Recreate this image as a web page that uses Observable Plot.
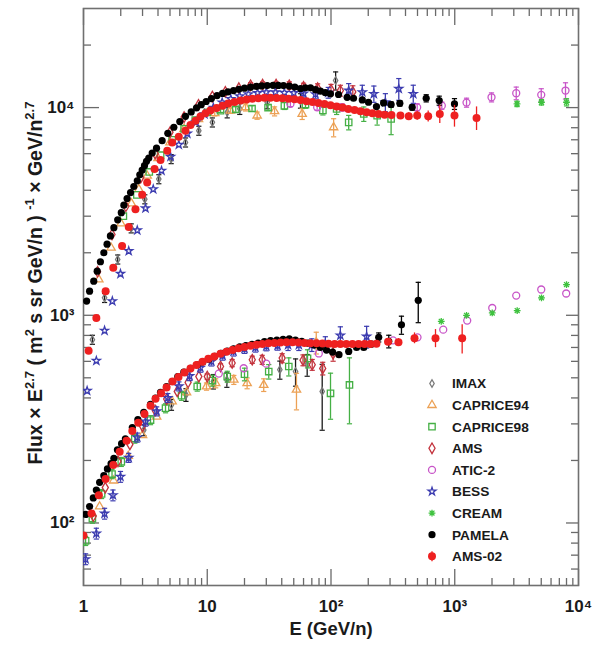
<!DOCTYPE html>
<html>
<head>
<meta charset="utf-8">
<script src="https://cdn.jsdelivr.net/npm/d3@7"></script>
<script src="https://cdn.jsdelivr.net/npm/@observablehq/plot@0.6"></script>
<style>
  body { margin: 0; background: #fff; }
  #chart { width: 595px; height: 646px; }
</style>
</head>
<body>
<div id="chart"></div>
<script>
// Cosmic-ray proton (upper band) and helium (lower band) spectra, flux × E^2.7.
// Each row: [E (GeV/n), flux × E^2.7, relative error (optional)]

const imaxP = [[1.18,763,.05],[1.48,1213,.05],[1.89,1858,.05],[2.43,2624,.05],[3.13,3622,.05],[4.06,4525,.05],[5.11,5654,.05],[6.67,6800,.05],[8.55,7745,.05],[11.0,8490,.05],[14.5,9490,.06],[18.3,9860,.06],[30.5,10610,.07],[56.7,10800,.08],[109,13500,.1]];
const imaxHe = [[3.07,280,.06],[5.14,371,.06],[6.73,414,.07],[11.2,480,.08],[14.4,489,.08],[38.6,547,.1],[51.7,536,.15],[64.2,578,.12],[84.9,430,.35]];

const caprice94P = [[1.33,1488],[1.67,2113],[2.01,2767],[2.44,3456],[2.80,4048],[3.27,4694],[4.0,5700],[5.0,6800],[6.5,7900],[8.5,8800],[11.5,9400,.03],[15.4,9670,.03],[20.4,10030,.04],[25.3,9150,.04],[35,9600,.05],[58.5,9324,.06],[105,8035,.1]];
const caprice94He = [[1.35,120],[1.75,160],[2.3,210],[3.0,265],[3.9,325],[5.2,385],[6.8,425],[9.86,454,.04],[11.7,471,.05],[16.4,489,.05],[21.0,471,.06],[28.6,462,.07],[52.6,438,.2],[76,740,.12]];

const caprice98P = [[2.1,3000],[2.7,3800],[3.4,4900],[4.2,5900],[5.2,7000],[6.5,7900],[8.0,8700],[10.0,9490,.02],[12.8,9670,.02],[17,9800,.03],[23,9900,.03],[31,10000,.03],[42,10200,.04],[62.2,10340,.04],[86,9700,.05],[111,9856,.06],[139,8490,.08],[184,9324,.08],[236,9150,.1],[306,8818,.16]];
const caprice98He = [[1.04,82,.05],[1.18,105,.05],[1.4,138,.05],[1.7,172,.05],[2.02,197,.05],[2.6,255,.05],[3.48,313,.05],[4.6,357,.05],[6.2,410,.05],[8.3,454,.05],[11,485,.06],[14.5,507,.06],[20,520,.07],[31.4,536,.08],[45.6,567,.1],[64.6,620,.1],[99.1,421,.25],[141,462,.35]];

const amsP = [[1.3,1620],[1.7,2450],[2.2,3350],[2.9,4600],[3.8,6000],[5,7600],[6.5,9000],[8.5,10300],[11,11300],[14,11900],[18,12400],[22.4,12800,.03],[28,12900,.03],[36,12900,.03],[46,12800,.04],[60,12600,.04],[78,12400,.05],[100,12200,.06],[119,12080,.06],[150,11900,.07]];
const amsHe = [[1.2,108],[1.5,148],[1.9,198],[2.37,239],[3.0,292],[3.8,348],[4.7,395],[5.72,430],[7.0,475],[8.55,507],[10.0,507,.03],[12.8,567,.03],[15.9,589,.04],[23.1,611,.04],[27.8,611,.05],[40.3,622,.05],[59.4,608,.06],[70.5,578,.06],[85.7,555,.07],[104,653,.08]];

const aticP = [[47,10420,.03],[77.3,10030,.03],[123,10030,.04],[497,10030,.04],[786,10220,.04],[1245,10570,.05],[1982,11210,.05],[3139,11730,.07],[5000,11520,.07],[7852,12080,.09]];
const aticHe = [[12.4,524],[19.7,556],[30,585],[79.7,655],[317,757],[500,783],[807,853],[1261,943],[2009,1084],[3139,1244],[5000,1331],[7955,1273]];

const bessP = [[1.07,433],[1.27,604],[1.48,844],[1.71,1170],[1.99,1584],[2.32,2039],[2.72,2566],[3.17,3275],[3.66,4048],[4.27,4966],[5.05,5800],[5.89,6624],[6.9,7500],[8.1,8500],[9.5,9300],[11.2,10000],[13.2,10600],[15.5,11000],[18.3,11350],[21.5,11600],[25.5,11750],[30,11850],[35.5,11850],[42,11800],[50,11750],[60,11700,.04],[75,11600,.05],[95,11800,.06],[139,12080,.08],[179,11860,.08],[222,11650,.09],[275,10610,.1],[353,12320,.12],[462,11650,.1]];
const bessHe = [[1.04,67,.06],[1.27,89,.06],[1.48,111,.06],[1.73,136,.06],[1.99,167,.06],[2.32,206,.05],[2.72,258,.05],[3.17,308,.05],[3.9,345,.05],[4.8,400,.05],[5.9,455,.05],[7.2,510,.05],[8.8,560,.05],[10.8,600,.05],[13.3,640,.05],[16.3,670,.05],[20,690,.05],[24.5,700,.05],[30,710,.05],[37,715,.05],[45,720,.06],[55,720,.06],[70,720,.07],[90,730,.08],[119,800,.1],[194,790,.12]];

const creamP = [[3186,10420,.03],[5023,10610,.03],[8000,10610,.04]];
const creamHe = [[778,935],[1245,1000],[2009,1026],[3196,1054],[5023,1213],[8000,1406]];

const pamelaP = [[1.06,1170],[1.12,1306],[1.21,1460],[1.29,1630],[1.37,1810],[1.46,2000],[1.55,2200],[1.65,2410],[1.76,2640],[1.89,2880],[2.02,3120],[2.12,3390],[2.25,3650],[2.40,3900],[2.55,4170],[2.72,4440],[2.85,4750],[2.98,5000],[3.11,5250],[3.23,5510],[3.37,5720],[3.59,6040],[3.89,6380],[4.32,6930],[4.80,7520],[5.37,8040],[6.00,8560],[6.67,9080],[7.42,9530],[8.19,9970],[8.94,10330],[9.8,10700],[10.8,11050],[12.0,11430],[13.3,11700],[14.7,11900],[16.3,12080],[18.0,12250],[20.0,12400],[22.4,12540],[25,12650],[27.5,12720],[30.5,12770],[34,12800],[37.5,12790],[41.3,12770],[46,12700],[51,12550],[56.7,12360],[62,12450],[68.3,12450],[75,12200],[82.2,11990],[90,11800],[99,11650],[115,11560],[135,11210],[152,11090],[179,10890],[201,10610,.02],[233,10110,.02],[266,10530,.02],[306,10340,.03],[360,10490,.03],[453,10030,.03],[588,11090,.04],[749,10810,.05],[995,10420,.06]];
const pamelaHe = [[1.04,110],[1.12,120],[1.20,132],[1.27,144],[1.35,157],[1.46,169],[1.56,182],[1.67,193],[1.76,205],[1.88,225],[2.03,241],[2.18,254],[2.48,288],[2.75,315],[3.07,341],[3.48,373],[3.82,399],[4.19,425],[4.69,454],[5.21,480],[5.78,507],[6.47,532],[7.32,556],[8.30,578],[9.2,595],[10.3,615],[11.5,635],[12.9,655],[14.5,672],[16.3,690],[18.3,705],[20.5,715],[23,725],[25.8,735],[29,748],[32.5,755],[36.5,760],[41,765],[46,770],[51.6,760],[58,750],[65,735],[73,720],[82,700],[92,680],[103,665],[116,646],[139,670],[161,700],[184,700],[211,727,.03],[243,783,.05],[293,749,.07],[371,900,.1],[507,1181,.22]];

const ams02P = [[1.10,675],[1.27,970],[1.51,1306],[1.74,1692],[2.05,2153],[2.32,2661],[2.63,3243],[2.98,3800],[3.27,4357],[3.75,5057],[4.19,5590],[4.75,6200],[5.21,6800],[5.89,7240],[6.67,7745],[7.32,8250],[8.04,8653],[8.82,9050],[9.68,9390],[10.6,9670],[11.9,9945],[13.3,10220],[14.8,10450],[16.6,10630],[18.6,10810],[20.8,10930],[23.2,11020],[25.9,11090],[29.0,11140],[32.4,11140],[36.3,11120],[40.5,11080],[45.4,11020],[50.7,10960],[56.7,10870],[63.4,10740],[70.9,10630],[79.2,10510],[88.6,10400],[99.1,10260],[111,10110],[124,10000],[138,9856],[155,9727],[173,9594],[194,9485],[216,9398],[242,9324],[271,9250],[308,9200,.02],[364,9150,.03],[425,9080,.04],[497,9150,.05],[610,9080,.06],[757,9324,.1],[995,9150,.12],[1500,8917,.13]];
const ams02He = [[1.0,87],[1.16,111],[1.33,136],[1.51,163],[1.74,190],[1.96,220],[2.23,249],[2.48,277],[2.77,304],[3.11,335],[3.48,367],[3.82,396],[4.24,421],[4.69,449],[5.24,480],[5.86,504],[6.55,530],[7.32,555],[8.19,577],[9.15,597],[10.2,617],[11.4,634],[12.8,652],[14.3,668],[16.0,681],[17.9,693],[20.0,703],[22.4,713],[25.0,721],[27.9,727],[31.2,733],[34.9,736],[39.1,739],[43.7,741],[48.9,741],[54.6,739],[61.1,736],[68.3,734],[76.4,733],[85.3,731],[95.4,730],[107,728],[119,727],[133,727],[149,727],[167,727],[187,727],[208,728],[233,730],[289,745,.03],[351,742,.04],[473,776,.06],[699,776,.1],[1148,776,.16]];

// Axis ticks and their labels
const xMajor = [1, 10, 100, 1000, 10000];
const xMajorLabels = ["1", "10", "10²", "10³", "10⁴"];
const yMajor = [100, 1000, 10000];
const yMajorLabels = ["10²", "10³", "10⁴"];
const xMinor = [1, 10, 100, 1000].flatMap(d => [2,3,4,5,6,7,8,9].map(k => k * d));
const yMinor = [60, 70, 80, 90].concat([100, 1000].flatMap(d => [2,3,4,5,6,7,8,9].map(k => k * d)), [20000]);

const FONT = '"Liberation Sans", Arial, Helvetica, sans-serif';

// Marker shapes
const asterisk8 = {
  draw(ctx, size) {
    const r = Math.sqrt(size / Math.PI), q = r * 0.72;
    ctx.moveTo(-r, 0); ctx.lineTo(r, 0);
    ctx.moveTo(0, -r); ctx.lineTo(0, r);
    ctx.moveTo(-q, -q); ctx.lineTo(q, q);
    ctx.moveTo(-q, q); ctx.lineTo(q, -q);
  }
};
const cap = {
  draw(ctx, size) {
    const r = Math.sqrt(size / Math.PI);
    ctx.moveTo(-r, 0); ctx.lineTo(r, 0);
  }
};

const experiments = [
  {name: "IMAX",      p: imaxP,      he: imaxHe,      color: "#7a7a7a", bar: "#1a1a1a", symbol: d3.symbolDiamond,  r: 2.3, caps: true},
  {name: "CAPRICE94", p: caprice94P, he: caprice94He, color: "#eca155", symbol: d3.symbolTriangle, r: 3.1, caps: true},
  {name: "CAPRICE98", p: caprice98P, he: caprice98He, color: "#45b045", symbol: d3.symbolSquare,   r: 3.6, caps: true},
  {name: "AMS",       p: amsP,       he: amsHe,       color: "#c3333d", symbol: d3.symbolDiamond,  r: 3.2, caps: true},
  {name: "ATIC-2",    p: aticP,      he: aticHe,      color: "#c855c8", symbol: d3.symbolCircle,   r: 3.5, caps: true},
  {name: "BESS",      p: bessP,      he: bessHe,      color: "#3c3cb0", symbol: d3.symbolStar,     r: 2.5, caps: true},
  {name: "CREAM",     p: creamP,     he: creamHe,     color: "#3fc23f", symbol: asterisk8,         r: 3.4, caps: true},
  {name: "PAMELA",    p: pamelaP,    he: pamelaHe,    color: "#000000", symbol: d3.symbolCircle,   r: 3.6, filled: true, caps: true},
  {name: "AMS-02",    p: ams02P,     he: ams02He,     color: "#ee2020", symbol: d3.symbolCircle,   r: 4.0, filled: true, caps: false}
];

const toRows = (arr) => arr.map(([E, F, e]) => ({E, F, e: e || 0}));

const dataMarks = experiments.flatMap(ex => {
  const rows = toRows(ex.p).concat(toRows(ex.he));
  const err = rows.filter(d => d.e > 0);
  const barColor = ex.bar || ex.color;
  const marks = [
    Plot.ruleX(err, {x: "E", y1: d => d.F * (1 - d.e), y2: d => d.F * (1 + d.e), stroke: barColor, strokeWidth: 1.3, clip: true})
  ];
  if (ex.caps) {
    marks.push(Plot.dot(err, {x: "E", y: d => d.F * (1 + d.e), symbol: cap, r: 2.6, stroke: barColor, strokeWidth: 1.2, clip: true}));
    marks.push(Plot.dot(err, {x: "E", y: d => d.F * (1 - d.e), symbol: cap, r: 2.6, stroke: barColor, strokeWidth: 1.2, clip: true}));
  }
  marks.push(Plot.dot(rows, ex.filled
    ? {x: "E", y: "F", symbol: ex.symbol, r: ex.r, fill: ex.color, stroke: "none", clip: true}
    : {x: "E", y: "F", symbol: ex.symbol, r: ex.r, fill: "white", fillOpacity: 0, stroke: ex.color, strokeWidth: 1.3, clip: true}));
  return marks;
});

const W = 595, H = 646, ML = 83, MR = 17, MT = 8, MB = 61;
const innerW = W - ML - MR, innerH = H - MT - MB;
const tickColor = "#6a6a6a";

const plot = Plot.plot({
  width: W, height: H,
  marginLeft: ML, marginRight: MR, marginTop: MT, marginBottom: MB,
  style: {fontFamily: FONT, background: "#fff", color: "#111"},
  x: {type: "log", domain: [1, 10000]},
  y: {type: "log", domain: [50, 30000]},
  marks: [
    // inward ticks on all four sides
    Plot.axisX(xMajor, {anchor: "top", dy: innerH, tickSize: 17, text: null, label: null, stroke: tickColor, strokeWidth: 1.3}),
    Plot.axisX(xMinor, {anchor: "top", dy: innerH, tickSize: 8, text: null, label: null, stroke: tickColor, strokeWidth: 1.3}),
    Plot.axisX(xMajor, {anchor: "bottom", dy: -innerH, tickSize: 17, text: null, label: null, stroke: tickColor, strokeWidth: 1.3}),
    Plot.axisX(xMinor, {anchor: "bottom", dy: -innerH, tickSize: 8, text: null, label: null, stroke: tickColor, strokeWidth: 1.3}),
    Plot.axisY(yMajor, {anchor: "right", dx: -innerW, tickSize: 15, text: null, label: null, stroke: tickColor, strokeWidth: 1.3}),
    Plot.axisY(yMinor, {anchor: "right", dx: -innerW, tickSize: 7, text: null, label: null, stroke: tickColor, strokeWidth: 1.3}),
    Plot.axisY(yMajor, {anchor: "left", dx: innerW, tickSize: 12, text: null, label: null, stroke: tickColor, strokeWidth: 1.3}),
    Plot.axisY(yMinor, {anchor: "left", dx: innerW, tickSize: 7, text: null, label: null, stroke: tickColor, strokeWidth: 1.3}),
    Plot.frame({stroke: "#707070", strokeWidth: 1.6}),
    ...dataMarks,
    // tick labels
    Plot.text(xMajor, {x: d => d, text: (d, i) => xMajorLabels[i], frameAnchor: "bottom", dy: 26, fontSize: 17, fontWeight: "bold", fill: "#1a1a1a"}),
    Plot.text(yMajor, {y: d => d, text: (d, i) => yMajorLabels[i], frameAnchor: "left", dx: -9, textAnchor: "end", fontSize: 17, fontWeight: "bold", fill: "#1a1a1a"}),
    // x axis title
    Plot.text(["E (GeV/n)"], {text: d => d, frameAnchor: "bottom", dy: 49, fontSize: 18.5, fontWeight: "bold", fill: "#1a1a1a"})
  ]
});

const svg = d3.select(plot);

// y axis title with superscripts
const yTitle = svg.append("text")
  .attr("transform", "translate(42,283) rotate(-90)")
  .attr("text-anchor", "middle")
  .attr("font-family", FONT)
  .attr("font-weight", "bold")
  .attr("font-size", 19.5)
  .attr("fill", "#1a1a1a");
const parts = [
  ["Flux × E", false], ["2.7", true], [" ( m", false], ["2", true],
  [" s sr GeV/n ) ", false], ["-1", true], [" × GeV/n", false], ["2.7", true]
];
let raised = false;
for (const [txt, sup] of parts) {
  const ts = yTitle.append("tspan").text(txt);
  if (sup) { ts.attr("font-size", 13).attr("dy", raised ? 0 : -8); raised = true; }
  else { ts.attr("dy", raised ? 8 : 0); raised = false; }
}

// legend
const legend = svg.append("g").attr("font-family", FONT).attr("text-anchor", "start");
experiments.forEach((ex, i) => {
  const cy = 383.5 + i * 21.6, cx = 432;
  const g = legend.append("g").attr("transform", `translate(${cx},${cy})`);
  if (ex.name === "AMS" || ex.name === "AMS-02") {
    g.append("line").attr("y1", -5).attr("y2", 5).attr("stroke", ex.color).attr("stroke-width", 1.3);
  }
  const path = d3.symbol(ex.symbol, Math.PI * ex.r * ex.r)();
  if (ex.filled) g.append("path").attr("d", path).attr("fill", ex.color);
  else g.append("path").attr("d", path).attr("fill", "white").attr("stroke", ex.color).attr("stroke-width", 1.3);
  legend.append("text")
    .attr("x", 452).attr("y", cy).attr("dy", "0.36em")
    .attr("text-anchor", "start")
    .attr("font-size", 13.7).attr("font-weight", "bold").attr("fill", "#1a1a1a")
    .text(ex.name);
});

document.getElementById("chart").appendChild(plot);
</script>
</body>
</html>
